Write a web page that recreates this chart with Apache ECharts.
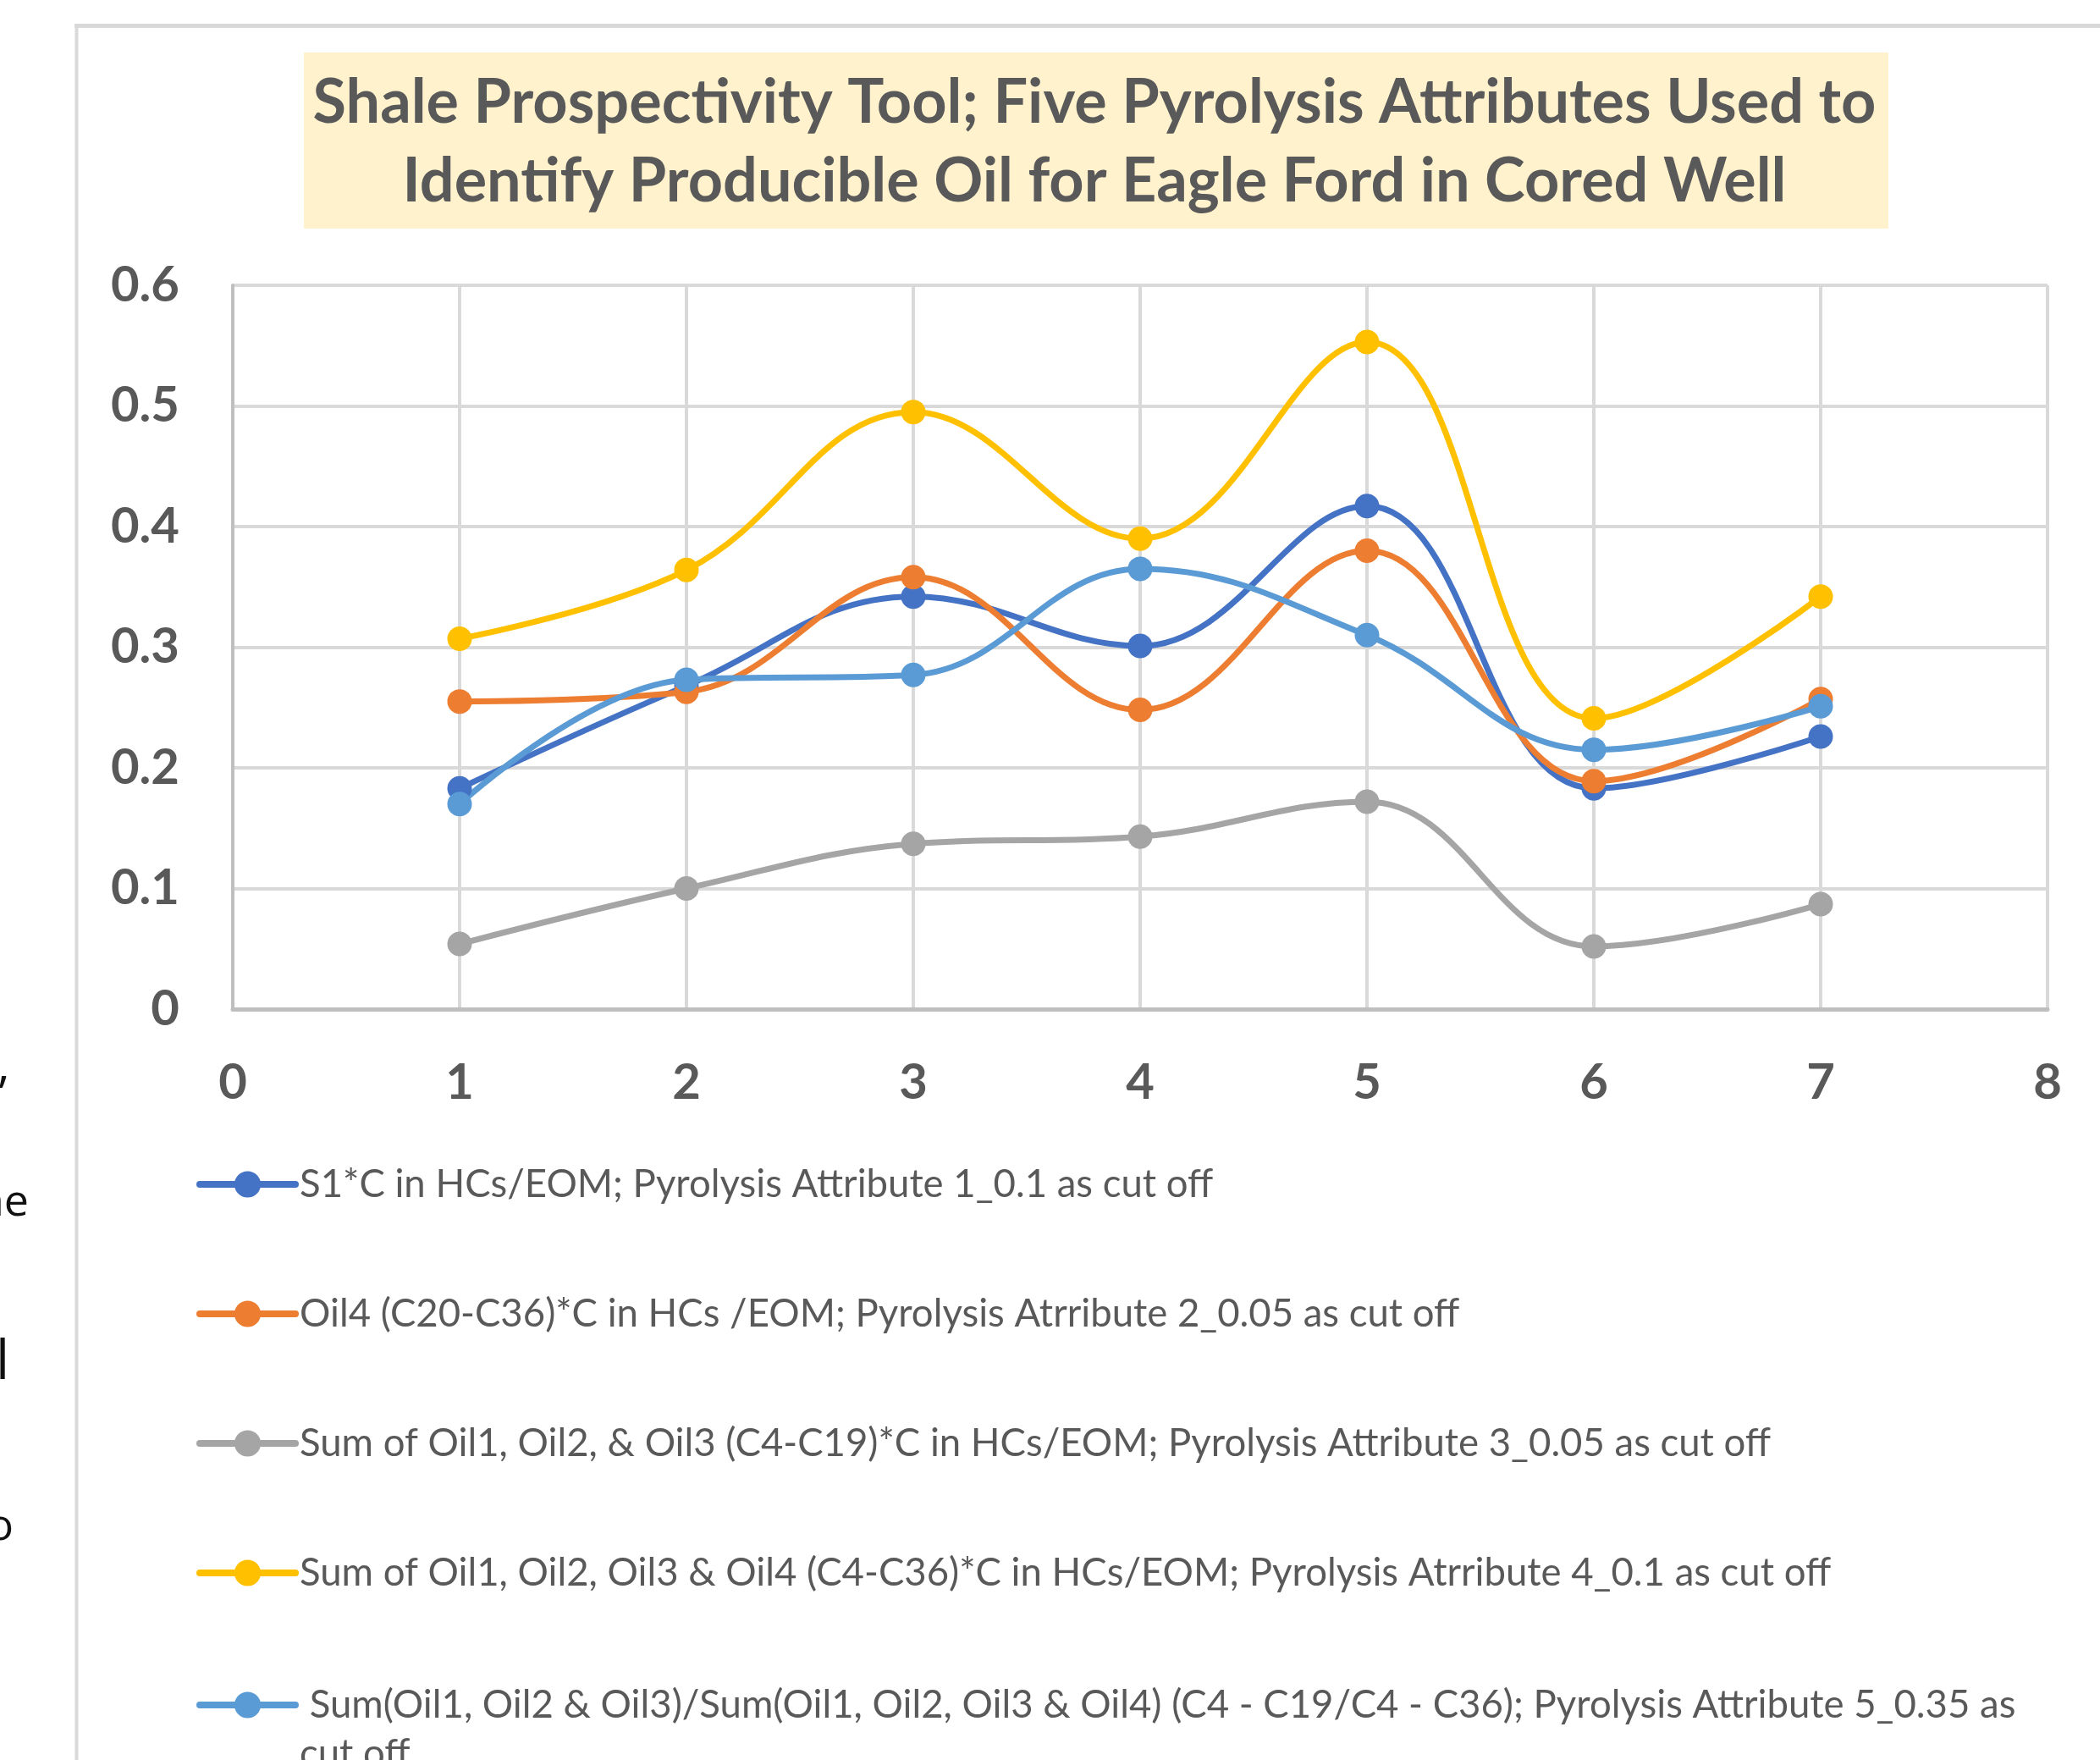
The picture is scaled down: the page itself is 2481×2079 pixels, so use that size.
<!DOCTYPE html>
<html><head><meta charset="utf-8">
<style>html,body{margin:0;padding:0;background:#fff;overflow:hidden}#c{width:2481px;height:2079px}</style>
<script src="https://cdn.jsdelivr.net/npm/echarts@6/dist/echarts.min.js"></script>
</head><body><div id="c"></div>
<script>
const titleLines = ['Shale Prospectivity Tool; Five Pyrolysis Attributes Used to', 'Identify Producible Oil for Eagle Ford in Cored Well'];
const xValues = [1, 2, 3, 4, 5, 6, 7];
const xTickLabels = ['0', '1', '2', '3', '4', '5', '6', '7', '8'];
const yTickLabels = ['0', '0.1', '0.2', '0.3', '0.4', '0.5', '0.6'];
const seriesNames = [
  'S1*C in HCs/EOM; Pyrolysis Attribute 1_0.1 as cut off',
  'Oil4 (C20-C36)*C in HCs /EOM; Pyrolysis Atrribute 2_0.05 as cut off',
  'Sum of Oil1, Oil2, & Oil3 (C4-C19)*C in HCs/EOM; Pyrolysis Attribute 3_0.05 as cut off',
  'Sum of Oil1, Oil2, Oil3 & Oil4 (C4-C36)*C in HCs/EOM; Pyrolysis Atrribute 4_0.1 as cut off',
  ' Sum(Oil1, Oil2 & Oil3)/Sum(Oil1, Oil2, Oil3 & Oil4) (C4 - C19/C4 - C36); Pyrolysis Attribute 5_0.35 as cut off'
];
const attr1 = [0.183, 0.268, 0.342, 0.301, 0.417, 0.183, 0.226];
const attr2 = [0.255, 0.263, 0.358, 0.248, 0.380, 0.189, 0.257];
const attr3 = [0.054, 0.100, 0.137, 0.143, 0.172, 0.052, 0.087];
const attr4 = [0.307, 0.364, 0.495, 0.390, 0.553, 0.241, 0.342];
const attr5 = [0.170, 0.273, 0.277, 0.365, 0.310, 0.215, 0.251];
const seriesValues = [attr1, attr2, attr3, attr4, attr5];
const colors = ['#4472C4', '#ED7D31', '#A5A5A5', '#FFC000', '#5B9BD5'];

const chart = echarts.init(document.getElementById('c'), null, {renderer: 'canvas', width: 2481, height: 2079});

const legendText = {fontFamily: 'Lato', fontSize: 45.5, color: '#595959', lineHeight: 56};
const legendCommon = {
  orient: 'vertical', left: 232, padding: 0, itemWidth: 113, itemHeight: 39,
  lineStyle: {width: 8, cap: 'round'}, selectedMode: true
};

const option = {
  backgroundColor: '#ffffff',
  animation: false,
  title: {
    text: titleLines.join('\n'), left: 1293, top: 75, textAlign: 'center', textVerticalAlign: 'top', padding: 0,
    textStyle: {fontFamily: 'Lato', fontWeight: 'bold', fontSize: 72, lineHeight: 93, color: '#595959'}
  },
  graphic: [
    {type: 'rect', z: -1, shape: {x: 359, y: 62, width: 1872, height: 208}, style: {fill: '#FFF2CC'}},
    {type: 'line', shape: {x1: 88, y1: 30.5, x2: 2481, y2: 30.5}, style: {stroke: '#d9d9d9', lineWidth: 5}},
    {type: 'line', shape: {x1: 90.5, y1: 28, x2: 90.5, y2: 2079}, style: {stroke: '#d9d9d9', lineWidth: 4}},
    {type: 'text', x: -3, y: 1290, style: {text: ',', font: '56px "Open Sans"', fill: '#111', align: 'left', verticalAlign: 'bottom'}},
    {type: 'text', x: 34, y: 1421, style: {text: 'ne', font: '52px "Open Sans"', fill: '#111', align: 'right', verticalAlign: 'middle'}},
    {type: 'text', x: -5, y: 1611, style: {text: 'l', font: '64px "Open Sans"', fill: '#111', align: 'left', verticalAlign: 'middle'}},
    {type: 'text', x: 16, y: 1804, style: {text: 'o', font: '52px "Open Sans"', fill: '#111', align: 'right', verticalAlign: 'middle'}}
  ],
  grid: {left: 275, right: 62, top: 337, bottom: 887, containLabel: false, outerBoundsMode: 'none'},
  xAxis: {
    type: 'value', min: 0, max: 8, interval: 1,
    axisLine: {show: true, lineStyle: {color: '#bfbfbf', width: 5}},
    axisTick: {show: false},
    splitLine: {show: true, lineStyle: {color: '#d9d9d9', width: 4}},
    axisLabel: {
      show: true, margin: 58, showMinLabel: true, showMaxLabel: true,
      fontFamily: 'Lato', fontWeight: 'bold', fontSize: 58, color: '#595959',
      formatter: v => xTickLabels[Math.round(v)]
    }
  },
  yAxis: {
    type: 'value', min: 0, max: 0.6, interval: 0.1,
    axisLine: {show: true, lineStyle: {color: '#bfbfbf', width: 4}},
    axisTick: {show: false},
    splitLine: {show: true, lineStyle: {color: '#d9d9d9', width: 4}},
    axisLabel: {
      show: true, margin: 63, showMinLabel: true, showMaxLabel: true,
      fontFamily: 'Lato', fontWeight: 'bold', fontSize: 58, color: '#595959',
      formatter: v => yTickLabels[Math.round(v * 10)]
    }
  },
  legend: [
    Object.assign({}, legendCommon, {top: 1371, itemGap: 97, textStyle: legendText, data: seriesNames.slice(0, 4)}),
    Object.assign({}, legendCommon, {
      top: 2014 - 87, textStyle: Object.assign({}, legendText, {lineHeight: 58}),
      data: [seriesNames[4]],
      formatter: n => '\n' + n.replace(' as cut off', ' as\ncut off')
    })
  ],
  series: seriesNames.map((name, i) => ({
    name: name, type: 'line', smooth: 0.4,
    symbol: 'circle', symbolSize: 29,
    lineStyle: {color: colors[i], width: 7},
    itemStyle: {color: colors[i], borderWidth: 0},
    emphasis: {disabled: true},
    data: xValues.map((x, j) => [x, seriesValues[i][j]])
  }))
};
chart.setOption(option);
</script></body></html>
